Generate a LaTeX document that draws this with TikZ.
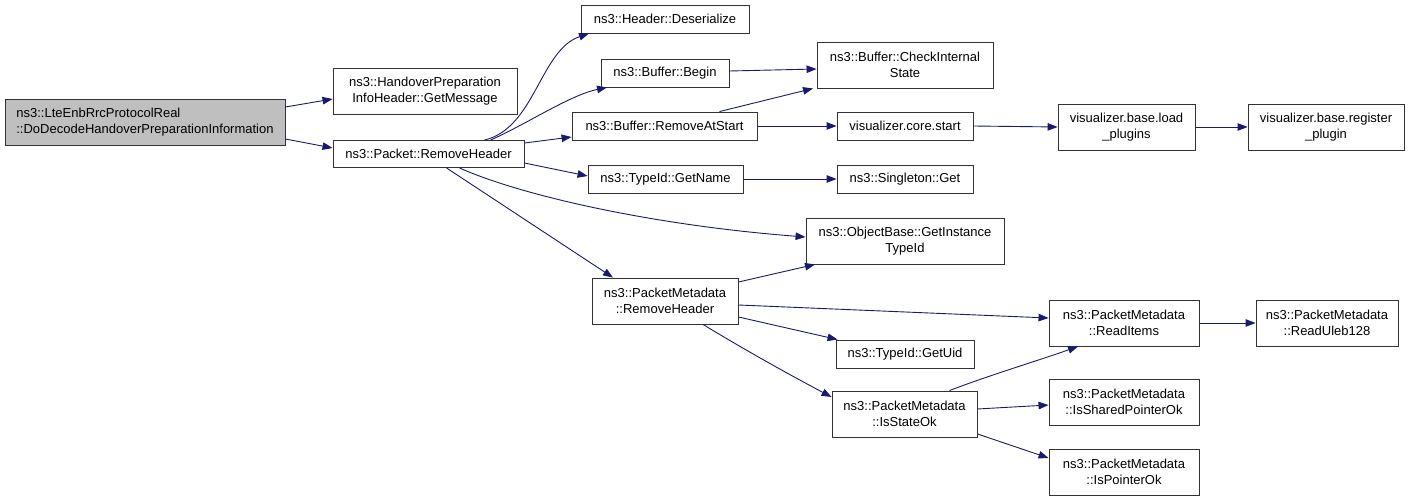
\documentclass[tikz,border=0pt]{standalone}
\usepackage{fontspec}
\setmainfont{Liberation Sans}
\usetikzlibrary{arrows.meta}

\begin{document}
\begin{tikzpicture}[x=1pt,y=-1pt,
    fn/.style={draw=black!80, line width=0.9pt, fill=white, inner sep=0pt,
        align=center, font=\fontsize{13}{15.5}\selectfont},
    fnmain/.style={fn, fill=black!25, align=left},
    call/.style={draw=callblue, line width=0.9pt,
        -{Triangle[length=10pt,width=7.5pt]}, fill=none}]

    % Define colors
    \definecolor{callblue}{RGB}{25,25,112}

    \useasboundingbox (0,0) rectangle (1411,500);

    % Draw functions
    \node[fnmain, minimum width=280, minimum height=46] (main) at (145,122)
        {ns3::LteEnbRrcProtocolReal\\::DoDecodeHandoverPreparationInformation};
    \node[fn, minimum width=184, minimum height=46] (getmsg) at (425,91)
        {ns3::HandoverPreparation\\InfoHeader::GetMessage};
    \node[fn, minimum width=191, minimum height=27] (prh) at (428.5,154)
        {ns3::Packet::RemoveHeader};

    \node[fn, minimum width=168, minimum height=28] (deser) at (665,19)
        {ns3::Header::Deserialize};
    \node[fn, minimum width=128, minimum height=28] (begin) at (665,73)
        {ns3::Buffer::Begin};
    \node[fn, minimum width=185, minimum height=28] (rmstart) at (664.5,126)
        {ns3::Buffer::RemoveAtStart};
    \node[fn, minimum width=155, minimum height=28] (getname) at (665.5,179)
        {ns3::TypeId::GetName};
    \node[fn, minimum width=146, minimum height=46] (pmrh) at (665,301)
        {ns3::PacketMetadata\\::RemoveHeader};

    \node[fn, minimum width=176, minimum height=46] (checkint) at (905,65)
        {ns3::Buffer::CheckInternal\\State};
    \node[fn, minimum width=136, minimum height=28] (corestart) at (905,126)
        {visualizer.core.start};
    \node[fn, minimum width=136, minimum height=28] (singleton) at (905,179)
        {ns3::Singleton::Get};
    \node[fn, minimum width=198, minimum height=46] (objbase) at (905,241)
        {ns3::ObjectBase::GetInstance\\TypeId};
    \node[fn, minimum width=138, minimum height=28] (getuid) at (905,354)
        {ns3::TypeId::GetUid};
    \node[fn, minimum width=145, minimum height=46] (isstate) at (904.5,414)
        {ns3::PacketMetadata\\::IsStateOk};

    \node[fn, minimum width=137, minimum height=46] (loadpl) at (1126.5,127)
        {visualizer.base.load\\\_plugins};
    \node[fn, minimum width=150, minimum height=46] (readitems) at (1124,323)
        {ns3::PacketMetadata\\::ReadItems};
    \node[fn, minimum width=150, minimum height=46] (shared) at (1124,402)
        {ns3::PacketMetadata\\::IsSharedPointerOk};
    \node[fn, minimum width=150, minimum height=46] (ptrok) at (1124,472)
        {ns3::PacketMetadata\\::IsPointerOk};

    \node[fn, minimum width=156, minimum height=46] (regpl) at (1326,127)
        {visualizer.base.register\\\_plugin};
    \node[fn, minimum width=142, minimum height=46] (uleb) at (1327,323)
        {ns3::PacketMetadata\\::ReadUleb128};

    % Draw calls
    \draw[call] ([yshift=15pt]main.east) -- ([yshift=-8pt]getmsg.west);
    \draw[call] ([yshift=-17pt]main.east) -- ([yshift=6pt]prh.west);

    \draw[call] ([xshift=56pt]prh.north) .. controls (535,128) and (540,50) .. ([xshift=-76pt]deser.south);
    \draw[call] ([xshift=62pt]prh.north) .. controls (525,125) and (570,95) .. ([xshift=-58pt]begin.south);
    \draw[call] ([yshift=11pt]prh.east) -- ([yshift=-11pt]rmstart.west);
    \draw[call] ([yshift=-9pt]prh.east) -- ([yshift=3pt]getname.west);
    \draw[call] ([xshift=31pt]prh.south) .. controls (520,195) and (650,225) .. ([yshift=4pt]objbase.west);
    \draw[call] ([xshift=18pt]prh.south) -- ([xshift=-52pt]pmrh.north);

    \draw[call] ([yshift=2pt]begin.east) -- ([yshift=-4pt]checkint.west);
    \draw[call] ([xshift=55pt]rmstart.north) -- ([xshift=-92pt]checkint.south);
    \draw[call] (rmstart.east) -- (corestart.west);
    \draw[call] (getname.east) -- (singleton.west);
    \draw[call] (corestart.east) -- (loadpl.west);
    \draw[call] (loadpl.east) -- (regpl.west);

    \draw[call] ([yshift=19pt]pmrh.east) -- ([xshift=-90pt]objbase.south);
    \draw[call] ([yshift=-4pt]pmrh.east) -- ([yshift=5pt]readitems.west);
    \draw[call] ([yshift=-16pt]pmrh.east) -- ([xshift=2pt]getuid.north west);
    \draw[call] ([xshift=38pt]pmrh.south) .. controls (745,350) and (790,375) .. ([yshift=17pt]isstate.west);

    \draw[call] ([xshift=45pt]isstate.north) .. controls (990,375) and (1040,360) .. ([xshift=-46pt]readitems.south);
    \draw[call] ([yshift=5pt]isstate.east) -- ([yshift=-3pt]shared.west);
    \draw[call] ([yshift=-20pt]isstate.east) -- ([yshift=14pt]ptrok.west);
    \draw[call] (readitems.east) -- (uleb.west);

\end{tikzpicture}
\end{document}
